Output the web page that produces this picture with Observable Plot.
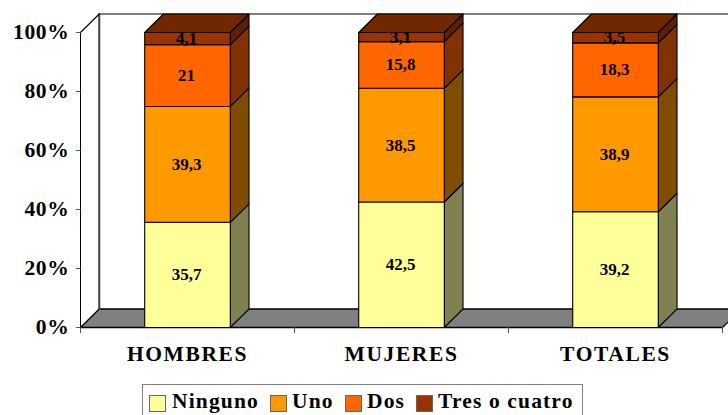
<!DOCTYPE html>
<html><head><meta charset="utf-8">
<style>
html,body{margin:0;padding:0;background:#fff;overflow:hidden;width:728px;height:415px}
svg{display:block;overflow:hidden}
#legend{position:absolute;left:142px;top:384px;width:441px;height:40px;box-sizing:border-box;border:1px solid #808080;background:#fff;font:bold 21.5px "Liberation Serif",serif;letter-spacing:1.15px;color:#000}
#legend i{position:absolute;top:10px;width:17px;height:17px;border:1px solid #666;box-sizing:border-box}
#legend span{position:absolute;top:4px;white-space:nowrap}
</style>
<script src="https://cdn.jsdelivr.net/npm/d3@7"></script>
<script src="https://cdn.jsdelivr.net/npm/@observablehq/plot@0.6"></script>
</head><body>
<div id="chart"></div>
<div id="legend"></div>
<script>
const categories = ["HOMBRES","MUJERES","TOTALES"];
const seriesNames = ["Ninguno","Uno","Dos","Tres o cuatro"];
const ninguno = [35.7,42.5,39.2];
const uno = [39.3,38.5,38.9];
const dos = [21,15.8,18.3];
const tres = [4.1,3.1,3.5];
const frontColors = ["#FFFF99","#FF9900","#FF6600","#993300"];
const sideColors = ["#808050","#804D00","#803300","#5E2000"];
const topColor = "#702800";
const floorColor = "#808080";
const valueLabels = ["35,7","39,3","21","4,1","42,5","38,5","15,8","3,1","39,2","38,9","18,3","3,5"];
const legendSwatchX = [6,127,202,273];
const legendTextX = [29,149,224,295];

const depthX = 0.0875, depthY = 6.27, barW = 0.4, barC = 0.5;
const all = [ninguno,uno,dos,tres];
const polys = [];
let pid = 0;
function poly(key, pts){const id=pid++; pts.forEach(([x,y])=>polys.push({id,key,x,y}));}
const labels = [];
categories.forEach((c,i)=>{
  const total = d3.sum(all,s=>s[i]);
  const cx = i+barC, l = cx-barW/2, r = cx+barW/2;
  let base = 0;
  all.forEach((s,k)=>{
    const top = base + s[i]/total*100;
    poly("side"+k,[[r,base],[r+depthX,base+depthY],[r+depthX,top+depthY],[r,top]]);
    poly("front"+k,[[l,base],[r,base],[r,top],[l,top]]);
    if(k===3) poly("top",[[l,top],[r,top],[r+depthX,top+depthY],[l+depthX,top+depthY]]);
    labels.push({x:cx,y:(base+top)/2,t:valueLabels[i*4+k]});
    base = top;
  });
});
const keys = [...all.map((_,k)=>"front"+k),...all.map((_,k)=>"side"+k),"top"];
const cols = [...frontColors,...sideColors,topColor];

const chart = Plot.plot({
  width:728,height:384,
  marginLeft:81,marginRight:5,marginTop:13,marginBottom:57,
  style:{background:"#fff",fontFamily:"'Liberation Serif',serif",fontWeight:"bold",color:"#000"},
  x:{domain:[0,3],range:[80,722]},
  y:{domain:[0,100],range:[327,32]},
  color:{domain:keys,range:cols},
  marks:[
    Plot.line([{x:0,y:0},{x:3,y:0},{x:3+depthX,y:depthY},{x:depthX,y:depthY}],{x:"x",y:"y",fill:floorColor,stroke:"#000",strokeWidth:1.3,curve:"linear-closed"}),
    Plot.line([{x:depthX,y:depthY},{x:depthX,y:100+depthY}],{x:"x",y:"y",stroke:"#404040",strokeWidth:2}),
    Plot.line([{x:0,y:100},{x:depthX,y:100+depthY},{x:3.2,y:100+depthY}],{x:"x",y:"y",stroke:"#000",strokeWidth:1.2}),
    Plot.line([{x:0,y:0},{x:0,y:100}],{x:"x",y:"y",stroke:"#000",strokeWidth:1}),
    Plot.line(polys,{x:"x",y:"y",z:"id",fill:"key",stroke:"#000",strokeWidth:1.1,curve:"linear-closed"}),
    Plot.axisY({ticks:[0,20,40,60,80,100],tickFormat:d=>d+"%",tickSize:5,tickPadding:7,fontSize:21.5,stroke:"#555",label:null}),
    Plot.axisX({ticks:[0,1,2,3],tickFormat:()=>"",tickSize:6,stroke:"#555",label:null}),
    Plot.axisX({ticks:[0.5,1.5,2.5],tickFormat:d=>categories[d-0.5],tickSize:0,tickPadding:18,fontSize:21.5,label:null}),
    Plot.text(labels,{x:"x",y:"y",text:"t",dx:-1,fontSize:17,fontWeight:"bold",fill:"#000",ariaLabel:"value-labels"})
  ]
});
const sel = d3.select(chart);
sel.selectAll('[aria-label="y-axis tick label"]').style("letter-spacing","0.7px");
sel.selectAll('[aria-label="x-axis tick label"]').style("letter-spacing","1.6px");
sel.selectAll('[aria-label="value-labels"]').style("letter-spacing","1px");
document.getElementById("chart").append(chart);
const lg = document.getElementById("legend");
seriesNames.forEach((n,i)=>{
  const sw=document.createElement("i");sw.style.left=legendSwatchX[i]+"px";sw.style.background=frontColors[i];lg.append(sw);
  const t=document.createElement("span");t.style.left=legendTextX[i]+"px";t.textContent=n;lg.append(t);
});
</script>
</body></html>
